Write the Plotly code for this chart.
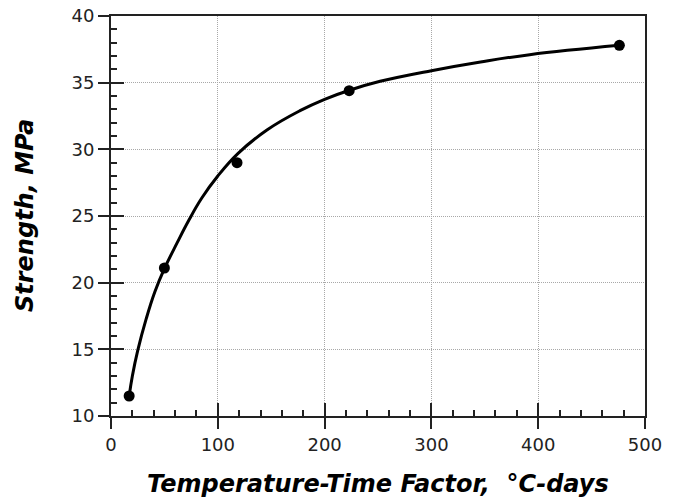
import plotly.graph_objects as go

# measured data points
pts_x = [17, 50, 118, 223, 476]
pts_y = [11.5, 21.1, 29.0, 34.4, 37.8]

# fitted curve
curve_x = [17, 20, 25, 33, 41, 50, 62, 73, 85, 100, 119, 146, 177, 200, 224, 252, 300, 346, 392, 476]
curve_y = [11.5, 13.0, 14.9, 17.3, 19.3, 21.05, 23.0, 24.7, 26.35, 28.0, 29.7, 31.45, 32.9, 33.75, 34.45, 35.1, 35.9, 36.55, 37.1, 37.8]

x_ticks = [0, 100, 200, 300, 400, 500]
y_ticks = [10, 15, 20, 25, 30, 35, 40]

x_title = "Temperature-Time Factor,  \u00b0C-days"
y_title = "Strength, MPa"

FONT = "DejaVu Sans"
AX = "#222222"

fig = go.Figure()
fig.add_trace(go.Scatter(x=curve_x, y=curve_y, mode="lines",
                         line=dict(color="black", width=3, shape="spline", smoothing=1.2),
                         showlegend=False, hoverinfo="skip"))
fig.add_trace(go.Scatter(x=pts_x, y=pts_y, mode="markers",
                         marker=dict(color="black", size=11),
                         showlegend=False))
# invisible trace to activate the overlay axes (outer tick marks + labels)
fig.add_trace(go.Scatter(x=[None], y=[None], xaxis="x2", yaxis="y2",
                         showlegend=False, hoverinfo="skip"))

inner = dict(showgrid=True, gridcolor="#a8a8a8", gridwidth=1, griddash="1px,1px",
             zeroline=False, showline=True, linecolor=AX, linewidth=2, mirror=True,
             ticks="inside", ticklen=13, tickwidth=2, tickcolor=AX,
             showticklabels=False, automargin=False)
outer = dict(ticks="outside", ticklen=12, tickwidth=2, tickcolor=AX,
             tickfont=dict(family=FONT, size=18, color="#222"),
             showgrid=False, zeroline=False, showline=False, automargin=False)

fig.update_layout(
    width=677, height=501,
    margin=dict(l=111, r=32, t=16, b=85, autoexpand=False),
    paper_bgcolor="white", plot_bgcolor="white",
    xaxis=dict(range=[0, 500], tickvals=x_ticks, **inner,
               minor=dict(ticks="inside", ticklen=6, tickwidth=1.5, tickcolor=AX, dtick=20, showgrid=False)),
    yaxis=dict(range=[10, 40], tickvals=y_ticks, **inner,
               minor=dict(ticks="inside", ticklen=6, tickwidth=1.5, tickcolor=AX, dtick=1, showgrid=False)),
    xaxis2=dict(range=[0, 500], overlaying="x", anchor="y2", side="bottom", tickvals=x_ticks, **outer),
    yaxis2=dict(range=[10, 40], overlaying="y", anchor="x2", side="left", tickvals=y_ticks, **outer),
    annotations=[
        dict(text=x_title, xref="paper", yref="paper", x=0.5, y=0, xanchor="center", yanchor="top",
             yshift=-52, showarrow=False,
             font=dict(family=FONT, size=24, color="black", weight="bold", style="italic")),
        dict(text=y_title, xref="paper", yref="paper", x=0, y=0.5, xanchor="center", yanchor="middle",
             xshift=-86, textangle=-90, showarrow=False,
             font=dict(family=FONT, size=24, color="black", weight="bold", style="italic")),
    ],
)

fig.write_html("out.html", config={"displayModeBar": False},
               post_script="document.body.style.margin='0';")
